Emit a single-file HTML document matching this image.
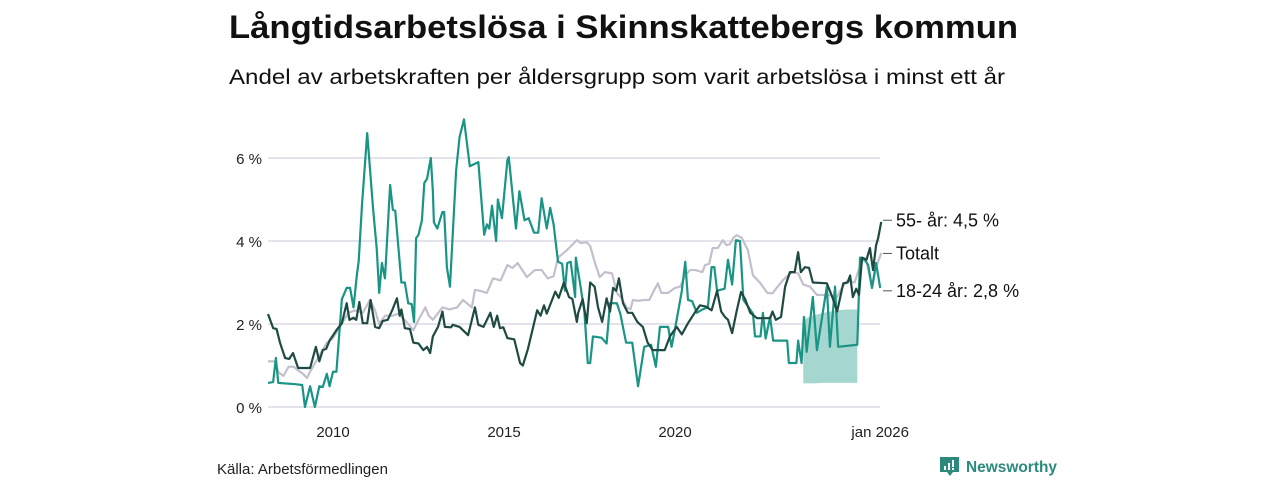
<!DOCTYPE html>
<html><head><meta charset="utf-8"><style>
html,body{margin:0;padding:0;background:#fff;}
svg{display:block;font-family:"Liberation Sans","DejaVu Sans",sans-serif;}
</style></head><body>
<svg id="chart" width="1280" height="480" viewBox="0 0 1280 480" xmlns="http://www.w3.org/2000/svg">
<text x="229" y="38" font-size="32" font-weight="bold" fill="#111" textLength="789" lengthAdjust="spacingAndGlyphs">Långtidsarbetslösa i Skinnskattebergs kommun</text>
<text x="229" y="84" font-size="21" fill="#111" textLength="776" lengthAdjust="spacingAndGlyphs">Andel av arbetskraften per åldersgrupp som varit arbetslösa i minst ett år</text>
<g id="grid"></g>
<g id="yaxis"></g>
<g id="xaxis"></g>
<g id="series"></g>
<g id="labels"></g>
<text x="217" y="474" font-size="15" fill="#222">Källa: Arbetsförmedlingen</text>
<g>
<path d="M940 457 h19 v15 h-6 l-3 4 l-3 -4 h-7 z" fill="#2b8a7c"/>
<rect x="944" y="466" width="2" height="4" fill="#fff"/><rect x="948" y="463" width="2" height="7" fill="#fff"/><rect x="952" y="460" width="2" height="7" fill="#fff"/><rect x="952" y="468" width="2" height="2" fill="#fff"/>
<text x="966" y="472" font-size="16" font-weight="bold" fill="#2b8a7c" textLength="91" lengthAdjust="spacingAndGlyphs">Newsworthy</text>
</g>
</svg>
<script>
const yTicks=[0,2,4,6];
const yTickLabels=["0 %","2 %","4 %","6 %"];
const xTicks=[2010,2015,2020,2026];
const xTickLabels=["2010","2015","2020","jan 2026"];

const youngT=[2008.1,2008.25,2008.33,2008.4,2008.9,2009.1,2009.18,2009.33,2009.47,2009.6,2009.7,2009.82,2009.9,2010,2010.1,2010.26,2010.4,2010.5,2010.6,2010.7,2010.75,2010.85,2011.0,2011.17,2011.28,2011.35,2011.43,2011.52,2011.67,2011.75,2011.82,2012.0,2012.1,2012.2,2012.3,2012.37,2012.43,2012.5,2012.6,2012.67,2012.75,2012.86,2012.92,2012.95,2013.05,2013.2,2013.25,2013.33,2013.42,2013.6,2013.7,2013.83,2014.0,2014.25,2014.42,2014.5,2014.57,2014.65,2014.77,2014.82,2014.94,2015.1,2015.14,2015.35,2015.45,2015.6,2015.72,2015.88,2016.0,2016.1,2016.25,2016.35,2016.45,2016.58,2016.7,2016.78,2016.85,2016.95,2017.08,2017.1,2017.22,2017.35,2017.45,2017.52,2017.6,2017.85,2018.0,2018.1,2018.3,2018.4,2018.57,2018.75,2018.92,2019.1,2019.3,2019.44,2019.56,2019.8,2019.9,2020.02,2020.2,2020.3,2020.38,2020.5,2020.64,2020.8,2020.96,2021.07,2021.15,2021.23,2021.45,2021.55,2021.67,2021.78,2021.9,2022.0,2022.28,2022.34,2022.5,2022.57,2022.65,2022.78,2022.87,2023.28,2023.33,2023.55,2023.6,2023.7,2023.77,2023.85,2024.03,2024.15,2024.44,2024.53,2024.68,2024.77,2025.33,2025.41,2025.55,2025.65,2025.76,2025.88,2026.0];
const youngV=[0.58,0.6,1.18,0.58,0.55,0.53,0.0,0.5,0.0,0.5,0.48,0.8,0.5,0.85,0.85,2.6,2.87,2.87,2.4,3.2,3.5,4.9,6.6,4.8,3.8,2.75,3.47,3.1,5.35,4.75,4.73,3.0,3.0,2.5,2.48,2.05,4.07,4.15,4.5,5.4,5.5,6.0,5.2,4.45,4.3,4.7,4.7,3.37,2.9,5.7,6.5,6.93,5.8,5.9,4.15,4.4,4.3,4.85,4.0,5.0,4.55,5.95,6.02,4.3,5.2,4.5,4.55,4.2,4.2,5.03,4.3,4.8,4.4,3.5,3.45,2.8,3.47,3.5,2.65,3.6,3.0,2.3,1.06,1.06,1.7,1.67,1.53,2.5,2.5,2.25,1.55,1.55,0.5,1.45,1.5,0.97,1.93,1.93,1.45,1.97,2.8,3.5,2.58,2.55,2.27,2.35,2.4,3.37,3.37,2.8,2.85,3.55,2.95,4.02,4.0,2.58,2.25,1.7,1.7,2.27,1.65,2.17,1.6,1.6,1.06,1.06,1.6,1.06,2.17,1.33,2.65,1.37,2.9,1.45,2.9,1.45,1.5,3.6,3.55,3.42,2.87,3.47,2.87];

const oldT=[2008.1,2008.25,2008.35,2008.45,2008.6,2008.72,2008.83,2008.98,2009.33,2009.5,2009.6,2009.7,2009.8,2009.9,2010.1,2010.26,2010.4,2010.48,2010.6,2010.68,2010.77,2010.87,2011.0,2011.1,2011.23,2011.35,2011.45,2011.6,2011.73,2011.87,2011.95,2012.0,2012.1,2012.25,2012.35,2012.5,2012.64,2012.75,2012.84,2012.92,2013.07,2013.2,2013.27,2013.45,2013.5,2013.7,2013.95,2014.15,2014.25,2014.4,2014.6,2014.7,2014.8,2014.88,2014.98,2015.1,2015.3,2015.47,2015.55,2015.7,2015.97,2016.07,2016.17,2016.25,2016.5,2016.6,2016.75,2016.9,2017.0,2017.13,2017.17,2017.3,2017.42,2017.52,2017.65,2017.75,2017.87,2018.0,2018.1,2018.19,2018.28,2018.36,2018.48,2018.62,2018.75,2018.9,2019.06,2019.2,2019.35,2019.7,2019.85,2020.05,2020.2,2020.38,2020.6,2020.73,2020.9,2021.07,2021.23,2021.35,2021.46,2021.55,2021.67,2021.8,2021.93,2022.05,2022.2,2022.4,2022.78,2022.85,2022.95,2023.1,2023.22,2023.36,2023.5,2023.6,2023.68,2023.8,2023.92,2024.03,2024.44,2024.6,2024.74,2024.92,2025.05,2025.12,2025.2,2025.3,2025.38,2025.47,2025.6,2025.7,2025.79,2025.88,2025.94,2026.03];
const oldV=[2.24,1.9,1.88,1.55,1.18,1.16,1.3,0.94,0.94,1.45,1.1,1.37,1.4,1.6,1.85,2.02,2.5,2.1,2.15,2.1,2.53,2.02,2.02,2.58,1.93,1.9,2.07,2.1,2.33,2.62,2.2,2.35,1.9,1.88,1.55,1.53,1.37,1.45,1.3,1.7,1.93,2.3,1.93,1.92,1.98,1.93,1.73,2.4,1.98,1.93,2.27,1.93,2.2,1.9,1.92,1.66,1.63,1.06,1.0,1.4,2.33,2.2,2.45,2.25,2.78,2.63,3.0,2.65,2.6,2.05,2.27,2.6,2.02,3.0,2.9,2.4,2.05,2.62,2.3,2.87,2.8,3.1,2.5,2.27,2.27,2.05,1.93,1.55,1.37,1.37,1.7,1.93,1.75,2.02,2.3,2.45,2.42,2.33,2.8,2.3,2.17,2.1,1.78,2.3,2.77,2.6,2.27,2.14,2.14,2.3,2.1,2.17,2.9,3.25,3.25,3.73,3.25,3.37,3.35,3.0,2.98,2.65,2.3,2.98,3.0,3.17,2.65,2.85,2.7,3.6,3.55,3.83,3.3,3.9,4.07,4.46];

const totalT=[2008.1,2008.3,2008.4,2008.55,2008.7,2008.85,2009.0,2009.12,2009.24,2009.33,2009.56,2009.82,2010,2010.2,2010.45,2010.65,2010.87,2011.08,2011.23,2011.35,2011.52,2011.75,2011.9,2012.05,2012.2,2012.35,2012.5,2012.7,2012.8,2012.92,2013.2,2013.4,2013.63,2013.8,2014.06,2014.15,2014.3,2014.5,2014.68,2014.9,2015.1,2015.25,2015.4,2015.67,2015.9,2016.1,2016.28,2016.45,2016.58,2016.84,2017.07,2017.13,2017.25,2017.42,2017.52,2017.66,2017.8,2017.95,2018.16,2018.3,2018.45,2018.6,2018.7,2018.77,2018.9,2019.12,2019.25,2019.35,2019.5,2019.6,2019.8,2020,2020.15,2020.3,2020.44,2020.6,2020.8,2020.88,2021.0,2021.1,2021.25,2021.4,2021.5,2021.6,2021.7,2021.8,2021.95,2022.13,2022.28,2022.48,2022.7,2022.85,2023.0,2023.16,2023.42,2023.6,2023.75,2023.95,2024.15,2024.45,2024.74,2024.9,2025.05,2025.25,2025.47,2025.6,2025.76,2025.9,2026.03];
const totalV=[1.1,1.1,0.84,0.75,0.97,0.97,0.87,0.8,0.7,0.85,1.18,1.55,1.66,1.93,2.27,2.33,2.27,2.58,2.33,2.0,2.2,2.2,2.25,2.14,2.0,1.85,2.1,2.4,2.2,2.1,2.4,2.35,2.4,2.58,2.4,2.82,2.8,2.75,3.1,3.05,3.42,3.35,3.47,3.13,3.3,3.3,3.1,3.15,3.6,3.78,3.97,4.02,3.95,3.97,3.88,3.47,3.13,3.25,3.22,2.75,2.6,2.38,2.36,2.58,2.56,2.58,2.58,2.75,2.98,2.75,2.75,2.87,2.9,3.17,3.3,3.3,3.25,3.42,3.45,3.83,3.83,4.02,3.9,3.92,4.07,4.14,4.08,3.78,3.17,3.0,2.75,2.74,2.9,3.06,3.25,3.22,2.95,2.9,2.7,2.7,2.65,2.9,3.05,3.0,3.54,3.5,2.87,3.42,3.71];

const bandT=[2023.75,2024.0,2024.4,2024.8,2025.0,2025.33];
const bandLow=[0.57,0.57,0.58,0.58,0.58,0.58];
const bandHigh=[2.1,2.2,2.28,2.33,2.35,2.35];

const labelNames=["55- år: 4,5 %","Totalt","18-24 år: 2,8 %"];
const labelValues=[4.5,3.7,2.8];

const NS="http://www.w3.org/2000/svg";
const X0=2010,PX0=333,PXY=34.2,Y0=407,PYV=41.5;
function xs(t){return PX0+(t-X0)*PXY;}
function ys(v){return Y0-v*PYV;}
function mk(tag,attrs,parent){const e=document.createElementNS(NS,tag);for(const k in attrs)e.setAttribute(k,attrs[k]);parent.appendChild(e);return e;}

const grid=document.getElementById('grid'),yax=document.getElementById('yaxis'),xax=document.getElementById('xaxis'),ser=document.getElementById('series'),lab=document.getElementById('labels');
yTicks.forEach((v,i)=>{
  const l=mk('line',{x1:268,x2:880,y1:ys(v),y2:ys(v),stroke:'#dcdae3','stroke-width':1.5},grid);
  
  
  const t=mk('text',{x:262,y:ys(v)+6,'text-anchor':'end','font-size':15,fill:'#222'},yax);
  t.textContent=yTickLabels[i];
  
  
});
xTicks.forEach((v,i)=>{
  const t=mk('text',{x:xs(v),y:437,'text-anchor':'middle','font-size':15,fill:'#222'},xax);
  t.textContent=xTickLabels[i];
  
  
});
let d='M'+bandT.map((t,i)=>xs(t)+','+ys(bandHigh[i])).join(' L');
for(let i=bandT.length-1;i>=0;i--)d+=' L'+xs(bandT[i])+','+ys(bandLow[i]);
const band=mk('path',{d:d+'Z',fill:'#a5d7d0'},ser);


function line(T,V,color,name){
  const p=mk('polyline',{points:T.map((t,i)=>xs(t)+','+ys(V[i])).join(' '),fill:'none',stroke:color,'stroke-width':2.2,'stroke-linejoin':'round'},ser);
  
  
}
line(totalT,totalV,'#c3bfcd','line-totalt');
line(youngT,youngV,'#1a9484','line-18-24');
line(oldT,oldV,'#1f4a41','line-55-plus');
labelNames.forEach((n,i)=>{
  const y=ys(labelValues[i]);
  const l=mk('line',{x1:883,x2:892,y1:y,y2:y,stroke:'#555','stroke-width':1},lab);
  
  
  const t=mk('text',{x:896,y:y+6,'font-size':18,fill:'#111'},lab);
  t.textContent=n;
  
  
});
</script>
</body></html>
